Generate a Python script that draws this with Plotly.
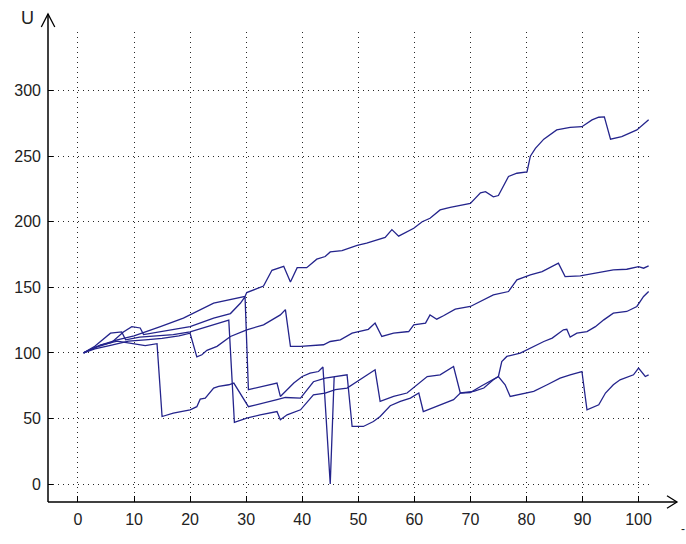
import plotly.graph_objects as go

# ---- data ----
A_x = [1, 4, 7, 10, 14.7, 18.8, 24.2, 27.8, 29.8, 30.1, 33.1, 34.6, 36.7, 37.9, 39.1, 40.8, 42.6, 44.1, 45, 47.1,
       49.8, 51.5, 54.8, 56, 57.2, 59.9, 61.4, 62.8, 64.6, 66.4, 70, 71.8, 72.7, 74.1, 75, 76.8, 78.3, 80.1, 80.7,
       81.6, 83.1, 85.4, 87.8, 89.9, 91.7, 92.9, 93.9, 95, 97, 99.7, 100.9, 101.8]
A_y = [100, 106, 110, 113, 120, 126.5, 138, 141, 143, 146, 151, 163, 166, 154, 165, 165, 171.5, 173.5, 177, 178,
       182, 183.7, 188, 194, 189, 195, 200, 202.7, 209, 211, 214, 222, 223, 219, 220, 234.5, 237, 238, 250,
       256, 263, 270, 272, 272.5, 277.7, 279.7, 280, 263, 265, 270, 274, 277.7]

B_x = [1, 3, 6, 9, 12, 15, 18, 20, 21.2, 22.1, 23, 24.8, 27.2, 30.1, 33.1, 36.1, 37, 37.9, 39.7, 43.8, 45, 46.8,
       48.9, 50, 51.8, 53, 54.2, 56.3, 59, 59.9, 62, 62.8, 64, 65.2, 67.3, 70, 71.8, 74.1, 76.8, 78.3, 80.7, 82.8,
       85.7, 86.9, 89.6, 92.6, 95.5, 97.9, 100, 100.9, 101.8]
B_y = [100, 103, 106, 109, 110, 111, 113, 115, 97, 98.6, 102, 105, 112.5, 117.6, 121.4, 129, 133, 105, 104.9,
       106.2, 108.7, 110, 115, 116.3, 118, 122.7, 112.5, 115, 116.3, 121.4, 122.7, 129, 125.7, 128.3, 133.4,
       135.4, 139.2, 144.3, 146.8, 155.7, 159.5, 162, 168.4, 158.2, 158.8, 160.8, 163.3, 163.8, 165.8, 164.6, 166.4]

C_x = [1, 4, 7, 10, 12, 14.1, 15, 17, 20, 21.2, 21.8, 22.7, 24.2, 25.1, 26.9, 27.8, 30.4, 35.5, 37, 39.7, 42,
       44.1, 48, 48.9, 50.9, 52.7, 53.9, 55.7, 57.5, 59.3, 60.8, 61.6, 64, 67, 68.2, 70, 71.8, 74.1, 75, 75.6,
       76.5, 78.9, 80.7, 83.1, 84.6, 86.6, 87.2, 87.8, 89, 90.8, 92.3, 93.8, 95.5, 97.9, 99.7, 100.9, 101.8]
C_y = [100, 106, 109, 107, 105.5, 107, 51.5, 54, 56.6, 59, 64.7, 65.5, 73.2, 74.4, 75.7, 77, 59, 64.3, 66, 65.5,
       78, 80.8, 83.3, 43.9, 43.9, 47.7, 51.5, 59.7, 63, 65.5, 69.4, 55.3, 59.1, 64.3, 69.4, 69.8, 74.4, 79.5, 82,
       93.4, 97.3, 99.8, 103.7, 108.7, 111.3, 117.6, 118, 112, 115, 116.3, 120, 125.2, 130.3, 131.6, 135.4, 143,
       146.8]

D_x = [1, 3, 5.8, 7.8, 8.5, 11, 14, 17, 20, 23, 26.9, 27.9, 30.1, 32.5, 35.5, 36.1, 37.3, 39.7, 42, 44.1, 45.9,
       48, 49.8, 53, 53.9, 56.3, 58.7, 60.5, 62.3, 64.6, 67, 68.2, 70.6, 72.4, 74.1, 75, 76.2, 77.1, 80.1, 81.3,
       83.7, 86, 87.8, 89.9, 90.8, 92.9, 94.1, 95.5, 96.7, 99.1, 100, 101.2, 101.8]
D_y = [100, 105, 115, 116, 110, 112, 113, 114, 116, 120, 125, 47, 50.3, 52.8, 55.3, 49, 52.8, 56.6, 68, 69.4,
       72, 73.2, 78.2, 87.1, 63, 66.8, 69.4, 75.7, 82, 83.3, 89.6, 69.4, 70.6, 73.2, 79.5, 82, 75.7, 66.8, 69.4,
       70.6, 75.7, 80.8, 83.3, 85.8, 56.6, 60.4, 69.4, 75.7, 79.5, 83.3, 88.4, 82, 83.3]

E_x = [1, 3, 6, 8.1, 9.6, 11.1, 11.7, 14.7, 20, 24.2, 27.2, 29, 29.8, 30.4, 35.5, 36.1, 38.5, 40, 41.4, 42.9,
       43.7, 45, 45.7]
E_y = [100, 104, 108, 116, 120, 119, 114, 116, 120, 126.5, 130, 138, 143, 72, 77, 66.8, 77, 82, 84.6, 85.8,
       89.2, 0, 81.6]

SERIES = [(A_x, A_y), (B_x, B_y), (C_x, C_y), (D_x, D_y), (E_x, E_y)]

X_TICKS = [0, 10, 20, 30, 40, 50, 60, 70, 80, 90, 100]
Y_TICKS = [0, 50, 100, 150, 200, 250, 300]

LINE_COLOR = "rgb(36,36,140)"

fig = go.Figure()
for xs, ys in SERIES:
    fig.add_trace(go.Scatter(x=xs, y=ys, mode="lines",
                             line=dict(color=LINE_COLOR, width=1.3),
                             showlegend=False, hoverinfo="skip"))

W, H = 686, 544
L, R, T, B = 47.7, 34, 32, 41.7
pw, ph = W - L - R, H - T - B

def px(xp):
    return (xp - L) / pw

def py(yp):
    return (H - B - yp) / ph

font = dict(family="Liberation Sans Narrow, Arial Narrow, Liberation Sans, sans-serif", size=16, color="#222")

fig.update_layout(
    width=W, height=H,
    margin=dict(l=L, r=R, t=T, b=B, pad=0),
    paper_bgcolor="white", plot_bgcolor="white",
    font=font,
    xaxis=dict(range=[-5.35, 102.4], tickvals=X_TICKS, ticks="inside", ticklen=6, tickcolor="black",
               showgrid=True, gridcolor="rgb(40,40,40)", griddash="1px,4px", gridwidth=1,
               zeroline=False, showline=False, tickfont=font, ticklabelstandoff=6),
    yaxis=dict(range=[-13.7, 344.7], tickvals=Y_TICKS, ticks="inside", ticklen=5, tickcolor="black",
               showgrid=True, gridcolor="rgb(40,40,40)", griddash="1px,4px", gridwidth=1,
               zeroline=False, showline=False, tickfont=font, ticklabelstandoff=6),
)

shapes = []
# x axis line with open arrow
shapes.append(dict(type="line", xref="paper", yref="paper", x0=px(47.7), x1=px(677), y0=0, y1=0,
                   line=dict(color="black", width=1.5)))
shapes.append(dict(type="path", xref="paper", yref="paper",
                   path=f"M {px(667)} {py(496)} L {px(677)} {py(502.3)} L {px(667)} {py(508.5)}",
                   line=dict(color="black", width=1.3)))
# y axis line with open arrow
shapes.append(dict(type="line", xref="paper", yref="paper", x0=0, x1=0, y0=0, y1=py(14),
                   line=dict(color="black", width=1.5)))
shapes.append(dict(type="path", xref="paper", yref="paper",
                   path=f"M {px(41)} {py(27)} L {px(47.7)} {py(14)} L {px(54.5)} {py(27)}",
                   line=dict(color="black", width=1.3)))
fig.update_layout(shapes=shapes)

fig.add_annotation(text="U", xref="paper", yref="paper", x=px(27), y=py(18), showarrow=False,
                   font=dict(family="Liberation Sans, Arial, sans-serif", size=18, color="#222"),
                   xanchor="center", yanchor="middle")
fig.add_annotation(text="-", xref="paper", yref="paper", x=px(683), y=py(529), showarrow=False,
                   font=dict(family="Liberation Sans, Arial, sans-serif", size=12, color="#222"),
                   xanchor="center", yanchor="middle")

fig.write_html("out.html")
